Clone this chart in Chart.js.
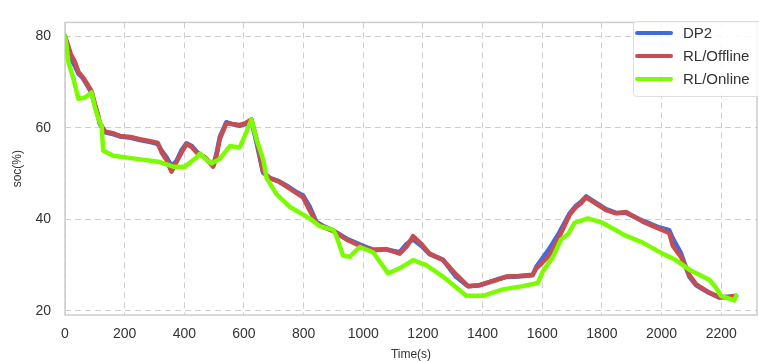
<!DOCTYPE html>
<html>
<head>
<meta charset="utf-8">
<script src="https://cdn.jsdelivr.net/npm/chart.js@4.4.1/dist/chart.umd.min.js"></script>
<style>
  html, body { margin: 0; padding: 0; background: #fff; }
  #wrap { width: 759px; height: 362px; }
</style>
</head>
<body>
<div id="wrap"><canvas id="socChart" width="759" height="362"></canvas></div>
<script>
// ── DATA ────────────────────────────────────────────────────────────────
const xTicks = [0, 200, 400, 600, 800, 1000, 1200, 1400, 1600, 1800, 2000, 2200];
const yTicks = [20, 40, 60, 80];

const offlineTime = [0, 5, 20, 33, 45, 60, 75, 89, 100, 110, 117, 134, 160, 184, 220, 251, 290, 311, 324, 340,
    357, 374, 390, 407, 425, 441, 470, 497, 508, 519, 541, 560, 586, 605, 625, 642, 664, 687, 715, 742,
    770, 798, 820, 843, 870, 899, 943, 999, 1033, 1077, 1122, 1145, 1167, 1195, 1222, 1267, 1290, 1312, 1351, 1390,
    1412, 1450, 1479, 1520, 1568, 1580, 1600, 1624, 1658, 1691, 1714, 1730, 1747, 1781, 1814, 1848, 1881, 1937, 1993, 2026,
    2038, 2065, 2093, 2116, 2160, 2194, 2227, 2250];
const offlineSoc = [80, 79, 76, 74.4, 72.2, 71, 69.5, 68, 65.2, 63, 61, 59.2, 58.8, 58.2, 58, 57.5, 57, 56.7, 54.6, 53,
    50.4, 52.5, 54.5, 56.4, 55.8, 54.6, 53.5, 51.5, 53.9, 57.5, 61, 60.8, 60.6, 61, 61.8, 57.5, 50.4, 49, 48.3, 47.2,
    46, 44.8, 42, 39.2, 38.2, 37.4, 35.6, 33.9, 33.2, 33.5, 32.5, 34, 36.3, 34.6, 32.5, 31.1, 29.5, 27.9, 25.4, 25.6,
    26.1, 26.8, 27.5, 27.6, 27.9, 29.3, 30.5, 32.1, 36.3, 40.9, 42.7, 43.5, 44.8, 43.4, 42, 41.3, 41.6, 39.5, 37.9, 37,
    34.2, 31.8, 27.9, 25.8, 24, 23, 23.1, 23.3];

const dp2Time = offlineTime;
const dp2Soc = [80, 78.5, 75, 73.5, 71.8, 70.8, 69.2, 67.6, 65, 62.6, 60.8, 59, 58.6, 58.1, 57.8, 57.3, 56.8, 56.4, 55, 53.6,
    51.6, 52.8, 55, 56.6, 56, 54.8, 53.4, 51.8, 54.4, 58, 61.2, 60.8, 60.4, 60.8, 61.6, 56.8, 50.2, 49, 48.4, 47.4,
    46.2, 45.2, 42.8, 39.4, 38.4, 37.6, 35.8, 34.2, 33.4, 33.4, 32.8, 34.6, 35.6, 34.2, 32.4, 31.2, 29.2, 27.4, 25.4, 25.6,
    26, 26.9, 27.4, 27.5, 27.8, 29.6, 31.4, 33.6, 37.2, 41.2, 43, 43.8, 45, 43.6, 42.2, 41.4, 41.4, 39.7, 38.2, 37.6,
    35.8, 32.6, 27.5, 25.6, 23.9, 22.9, 23.1, 23.2];

const onlineTime = [0, 5, 11, 28, 45, 67, 89, 100, 112, 123, 128, 162, 240, 318, 363, 402, 441, 452, 475, 491,
    519, 553, 586, 603, 625, 642, 664, 676, 709, 754, 820, 854, 899, 910, 932, 954, 988, 1033, 1083, 1122,
    1167, 1211, 1267, 1312, 1345, 1401, 1468, 1535, 1585, 1602, 1636, 1663, 1686, 1708, 1753, 1803, 1853, 1870, 1937, 2003,
    2048, 2093, 2160, 2182, 2199, 2244, 2250];
const onlineSoc = [80, 78, 74.4, 70.8, 66.3, 66.6, 67.7, 64.5, 62, 60.3, 55, 53.9, 53.2, 52.5, 51.5, 51.5, 53.5, 54.3, 53, 52.2,
    53.2, 56, 55.7, 58.2, 61.8, 57.5, 53.2, 49, 45.5, 42.7, 40.2, 38.5, 37.7, 36.3, 32.1, 31.8, 33.9, 32.8, 28.2, 29.3,
    31.1, 30, 27.5, 25.1, 23.3, 23.3, 24.7, 25.4, 26.1, 28.6, 31.8, 35.6, 36.7, 39.2, 40.2, 39.2, 37.4, 36.7, 34.9, 32.5,
    31.1, 29, 26.8, 25.1, 23.3, 22.3, 23.3];

const seriesNames = ['DP2', 'RL/Offline', 'RL/Online'];
const seriesColors = ['#4169e1', '#c44e52', '#7cfc00'];

const toPoints = (ts, vs) => ts.map((t, i) => ({ x: t, y: vs[i] }));

// ── PLUGINS ─────────────────────────────────────────────────────────────
const frame = {
    id: 'frame',
    beforeDatasetsDraw(chart) {
        const { ctx, chartArea: a } = chart;
        ctx.save();
        ctx.strokeStyle = '#cccccc';
        ctx.lineWidth = 1.5;
        ctx.strokeRect(a.left, a.top, a.right - a.left, a.bottom - a.top);
        ctx.restore();
    }
};

const boxLegend = {
    id: 'boxLegend',
    afterDraw(chart) {
        const { ctx } = chart;
        const x = 633, y = 21, w = 130, h = 75, row = 23;
        ctx.save();
        ctx.fillStyle = 'rgba(255,255,255,0.85)';
        ctx.strokeStyle = '#dddddd';
        ctx.lineWidth = 1;
        ctx.beginPath();
        ctx.roundRect(x + 0.5, y + 0.5, w, h, 3);
        ctx.fill();
        ctx.stroke();
        ctx.font = '15px "Liberation Sans", Arial, sans-serif';
        ctx.textBaseline = 'middle';
        chart.data.datasets.forEach((ds, i) => {
            const cy = y + 12 + i * row;
            ctx.strokeStyle = ds.borderColor;
            ctx.lineWidth = 4;
            ctx.lineCap = 'round';
            ctx.beginPath();
            ctx.moveTo(x + 4, cy);
            ctx.lineTo(x + 38, cy);
            ctx.stroke();
            ctx.fillStyle = '#333';
            ctx.fillText(ds.label, x + 50, cy + 1);
        });
        ctx.restore();
    }
};

// ── CHART ───────────────────────────────────────────────────────────────
Chart.defaults.font.family = '"Liberation Sans", Arial, sans-serif';
Chart.defaults.color = '#333';

const gridOpts = { color: '#cfcfcf', drawTicks: false, lineWidth: 1, borderDash: [6, 4] };
const borderOpts = { display: false, dash: [6, 4] };

new Chart(document.getElementById('socChart').getContext('2d'), {
    type: 'line',
    data: {
        datasets: [
            { label: seriesNames[0], data: toPoints(dp2Time, dp2Soc), borderColor: seriesColors[0], order: 3 },
            { label: seriesNames[1], data: toPoints(offlineTime, offlineSoc), borderColor: seriesColors[1], order: 2 },
            { label: seriesNames[2], data: toPoints(onlineTime, onlineSoc), borderColor: seriesColors[2], order: 1 }
        ].map(d => Object.assign(d, {
            borderWidth: 4.5, pointRadius: 0, tension: 0, fill: false,
            borderJoinStyle: 'round', borderCapStyle: 'round'
        }))
    },
    options: {
        responsive: false,
        animation: false,
        layout: { padding: { top: 13, right: 2, left: 0, bottom: 0 } },
        plugins: { legend: { display: false }, tooltip: { enabled: false } },
        scales: {
            x: {
                type: 'linear',
                min: 0,
                max: 2320,
                afterBuildTicks: s => { s.ticks = xTicks.map(v => ({ value: v })); },
                afterFit: s => { s.height = 47; },
                ticks: { font: { size: 14 }, padding: 11, maxRotation: 0, color: '#333', callback: v => String(v) },
                grid: gridOpts,
                border: borderOpts,
                title: { display: true, text: 'Time(s)', font: { size: 12 }, padding: { top: 2, bottom: 0 }, color: '#333' }
            },
            y: {
                min: 19.1,
                max: 83,
                afterBuildTicks: s => { s.ticks = yTicks.map(v => ({ value: v })); },
                afterFit: s => { s.width = 65; },
                ticks: { font: { size: 14 }, padding: 14, color: '#333', callback: v => String(v) },
                grid: gridOpts,
                border: borderOpts,
                title: { display: true, text: 'soc(%)', font: { size: 12 }, padding: { top: 10, bottom: 2 }, color: '#333' }
            }
        }
    },
    plugins: [frame, boxLegend]
});
</script>
</body>
</html>
